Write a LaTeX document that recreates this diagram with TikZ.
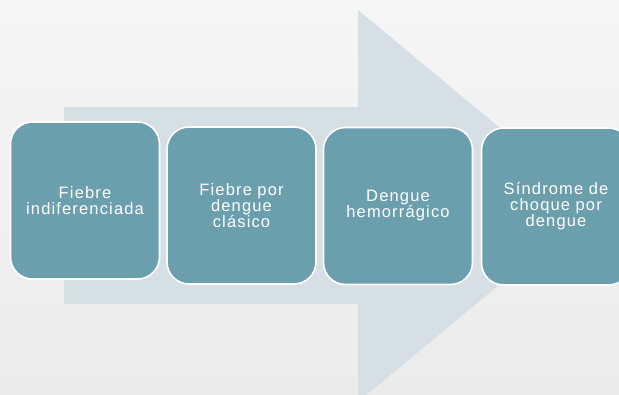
\documentclass[tikz,border=0pt]{standalone}
\usepackage{fontspec}
\setmainfont{Liberation Sans}
\newfontfamily\rotulo[LetterSpace=7]{Liberation Sans}
\definecolor{fondoA}{HTML}{F6F6F6}
\definecolor{fondoB}{HTML}{EBEBEB}
\definecolor{flecha}{HTML}{D6DFE4}
\definecolor{caja}{HTML}{6B9FAE}
\tikzset{
  etapa/.style={draw=white, line width=1.6pt, fill=caja, rounded corners=22pt,
    minimum width=149pt, minimum height=157pt, inner sep=0pt,
    text=white, align=center, text width=146pt,
    font=\rotulo\fontsize{16.5}{16}\selectfont}
}

\begin{document}
\begin{tikzpicture}[x=1pt,y=-1pt]
   \useasboundingbox (0,0) rectangle (619,394);
   \clip (0,0) rectangle (619,394);
   \shade[top color=fondoA, bottom color=fondoB] (0,0) rectangle (619,394);
   % flecha de fondo
   \fill[flecha] (64,107) -- (358,107) -- (358,10) -- (594,206) --
     (358,402) -- (358,304) -- (64,304) -- cycle;
   % etapas
   \node[etapa] (fiebre)  at (85,200.5)  {Fiebre\\indiferenciada};
   \node[etapa] (clasico) at (241.5,205.5) {Fiebre por\\dengue\\cl\'asico};
   \node[etapa] (hemorr)  at (398,206)   {Dengue\\hemorr\'agico};
   \node[etapa] (choque)  at (556,206.5) {S\'indrome de\\choque por\\dengue};
\end{tikzpicture}
\end{document}
